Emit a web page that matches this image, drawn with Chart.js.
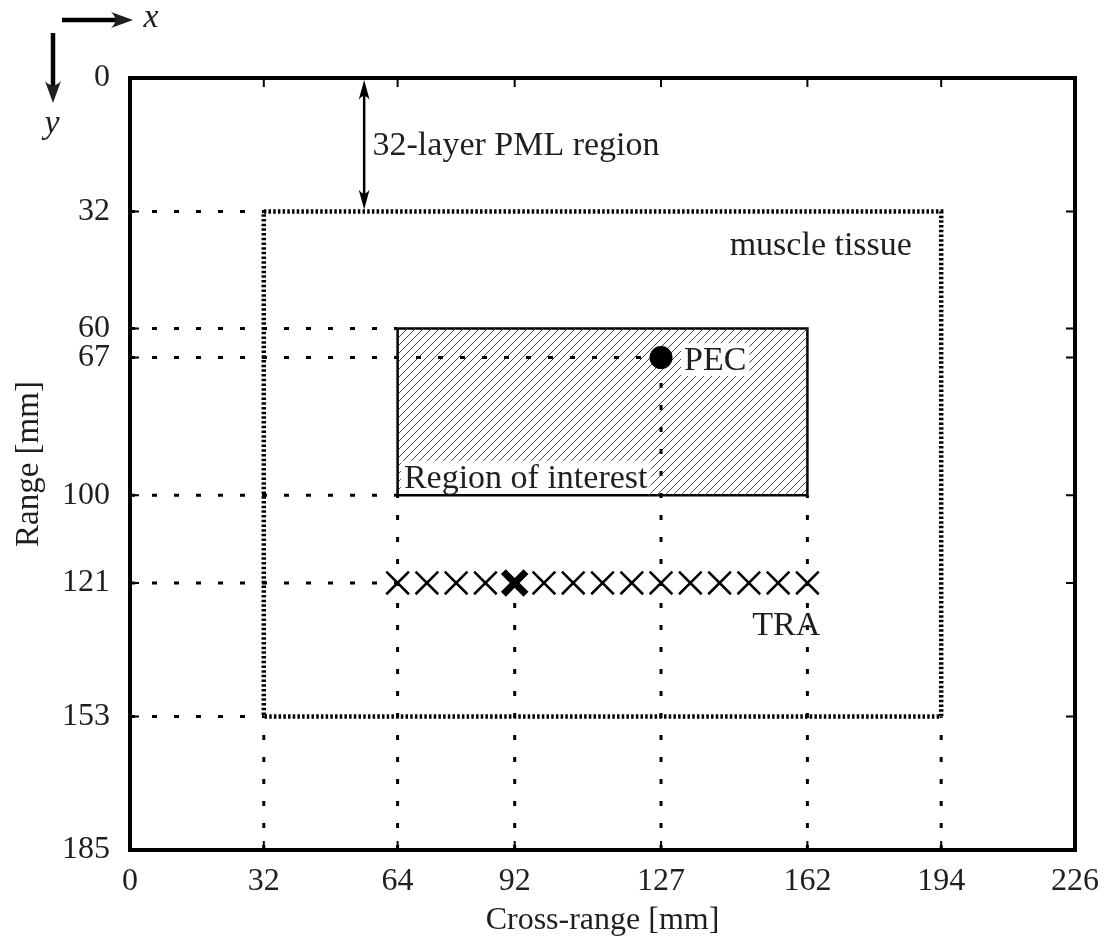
<!DOCTYPE html>
<html>
<head>
<meta charset="utf-8">
<script src="https://cdn.jsdelivr.net/npm/chart.js@4/dist/chart.umd.min.js"></script>
<style>
  html, body { margin: 0; padding: 0; background: #fff; }
  #wrap { width: 1107px; height: 942px; }
</style>
</head>
<body>
<div id="wrap"><canvas id="geo"></canvas></div>
<script>
// ── data (mm) ─────────────────────────────
const xTicks = [0, 32, 64, 92, 127, 162, 194, 226];
const yTicks = [0, 32, 60, 67, 100, 121, 153, 185];
const muscleX = [32, 194, 194, 32, 32];
const muscleY = [32, 32, 153, 153, 32];
const roiX = [64, 162, 162, 64, 64];
const roiY = [60, 60, 100, 100, 60];
const pec = [127, 67];
const traX = [64, 71, 78, 85, 92, 99, 106, 113, 120, 127, 134, 141, 148, 155, 162];
const traY = 121;
const traActive = 92;
// guide lines: horizontal [y, xEnd] from x=0, vertical [x, yEnd] from y=185
const hGuides = [[32, 32], [60, 64], [67, 127], [100, 64], [121, 64], [153, 32]];
const vGuides = [[32, 153], [64, 100], [92, 121], [127, 67], [162, 100], [194, 153]];
const pmlArrow = { x: 56, y0: 0, y1: 32 };
const labels = [
  { text: '32-layer PML region', x: 58, y: 16, align: 'left', bg: false },
  { text: 'muscle tissue', x: 187, y: 40, align: 'right', bg: false },
  { text: 'PEC', x: 132.5, y: 67.6, align: 'left', bg: true },
  { text: 'Region of interest', x: 65.5, y: 95.8, align: 'left', bg: true },
  { text: 'TRA', x: 148.8, y: 131, align: 'left', bg: false }
];

const FONT = "'Liberation Serif', 'Times New Roman', serif";
const INK = '#1f1f1f';

const zip = (xs, ys) => xs.map((x, i) => ({ x, y: ys[i] }));

const guidePts = [];
hGuides.forEach(([y, xe]) => { guidePts.push({ x: 0, y }, { x: xe, y }, { x: xe, y: null }); });
vGuides.forEach(([x, ye]) => { guidePts.push({ x, y: 185 }, { x, y: ye }, { x, y: null }); });

// hatch pattern ///
const hatch = (() => {
  const s = 8, c = document.createElement('canvas');
  c.width = s; c.height = s;
  const g = c.getContext('2d');
  g.strokeStyle = '#333'; g.lineWidth = 0.9;
  g.beginPath();
  g.moveTo(0, s); g.lineTo(s, 0);
  g.moveTo(-1, 1); g.lineTo(1, -1);
  g.moveTo(s - 1, s + 1); g.lineTo(s + 1, s - 1);
  g.stroke();
  return g.createPattern(c, 'repeat');
})();

// ── decorations: frame, inward ticks, arrows, labels ──
const arrowHead = (ctx, x, y, dx, dy, len, half) => {
  const px = -dy, py = dx;
  ctx.beginPath();
  ctx.moveTo(x, y);
  ctx.lineTo(x - dx * len + px * half, y - dy * len + py * half);
  ctx.quadraticCurveTo(x - dx * len * 0.6, y - dy * len * 0.6, x - dx * len - px * half, y - dy * len - py * half);
  ctx.closePath();
  ctx.fill();
};

const decor = {
  id: 'decor',
  afterDatasetsDraw(chart) {
    const { ctx, chartArea: a, scales: { x, y } } = chart;
    ctx.save();
    ctx.strokeStyle = '#000'; ctx.fillStyle = '#000';

    // PML double arrow
    const ax = x.getPixelForValue(pmlArrow.x);
    const ay0 = y.getPixelForValue(pmlArrow.y0) + 2, ay1 = y.getPixelForValue(pmlArrow.y1) - 2;
    ctx.lineWidth = 2.5;
    ctx.beginPath(); ctx.moveTo(ax, ay0 + 10); ctx.lineTo(ax, ay1 - 10); ctx.stroke();
    arrowHead(ctx, ax, ay0, 0, -1, 20, 5.5);
    arrowHead(ctx, ax, ay1, 0, 1, 20, 5.5);

    // labels
    ctx.font = `34px ${FONT}`;
    ctx.textBaseline = 'middle';
    labels.forEach(l => {
      const px = x.getPixelForValue(l.x), py = y.getPixelForValue(l.y);
      const w = ctx.measureText(l.text).width;
      const left = l.align === 'right' ? px - w : px;
      if (l.bg) {
        ctx.fillStyle = '#fff';
        ctx.fillRect(left - 3, py - 17, w + 6, 33);
      }
      ctx.fillStyle = INK;
      ctx.textAlign = 'left';
      ctx.fillText(l.text, left, py + 1);
    });

    // inward ticks on all four sides
    ctx.strokeStyle = '#000'; ctx.lineWidth = 2;
    ctx.beginPath();
    xTicks.forEach(v => {
      const px = x.getPixelForValue(v);
      ctx.moveTo(px, a.bottom); ctx.lineTo(px, a.bottom - 9);
      ctx.moveTo(px, a.top); ctx.lineTo(px, a.top + 9);
    });
    yTicks.forEach(v => {
      const py = y.getPixelForValue(v);
      ctx.moveTo(a.left, py); ctx.lineTo(a.left + 9, py);
      ctx.moveTo(a.right, py); ctx.lineTo(a.right - 9, py);
    });
    ctx.stroke();

    // frame
    ctx.lineWidth = 4;
    ctx.strokeRect(a.left, a.top, a.right - a.left, a.bottom - a.top);

    // coordinate system hint (top-left)
    ctx.lineWidth = 4.5;
    ctx.beginPath(); ctx.moveTo(62, 20); ctx.lineTo(116, 20); ctx.stroke();
    arrowHead(ctx, 133, 20, 1, 0, 22, 8);
    ctx.beginPath(); ctx.moveTo(53, 33); ctx.lineTo(53, 86); ctx.stroke();
    arrowHead(ctx, 53, 103, 0, 1, 22, 8);
    ctx.fillStyle = INK;
    ctx.font = `italic 34px ${FONT}`;
    ctx.textAlign = 'center';
    ctx.fillText('x', 151, 18);
    ctx.fillText('y', 52, 124);
    ctx.restore();
  }
};

const axisTicks = list => axis => { axis.ticks = list.map(v => ({ value: v })); };

new Chart(document.getElementById('geo'), {
  type: 'scatter',
  data: {
    datasets: [
      { label: 'ROI', data: zip(roiX, roiY), showLine: true, fill: 'shape',
        backgroundColor: hatch, borderColor: '#000', borderWidth: 2.5,
        pointRadius: 0, order: 5 },
      { label: 'guides', data: guidePts, showLine: true, spanGaps: false,
        borderColor: '#000', borderWidth: 3, borderDash: [5, 17],
        pointRadius: 0, order: 4 },
      { label: 'muscle', data: zip(muscleX, muscleY), showLine: true,
        borderColor: '#000', borderWidth: 4.5, borderDash: [2.5, 2.2],
        pointRadius: 0, order: 3 },
      { label: 'TRA', data: traX.filter(v => v !== traActive).map(v => ({ x: v, y: traY })),
        pointStyle: 'crossRot', pointRadius: 16, borderColor: '#000', borderWidth: 2.5, order: 2 },
      { label: 'TRA active', data: [{ x: traActive, y: traY }],
        pointStyle: 'crossRot', pointRadius: 16, borderColor: '#000', borderWidth: 7, order: 1 },
      { label: 'PEC', data: [{ x: pec[0], y: pec[1] }],
        pointRadius: 11.5, backgroundColor: '#000', borderColor: '#000', borderWidth: 0, order: 0 }
    ]
  },
  options: {
    responsive: true,
    maintainAspectRatio: false,
    animation: false,
    clip: false,
    layout: { padding: { left: 0, top: 78, right: 32, bottom: 0 } },
    plugins: { legend: { display: false }, tooltip: { enabled: false } },
    scales: {
      x: {
        type: 'linear', min: 0, max: 226,
        afterBuildTicks: axisTicks(xTicks),
        afterFit: s => { s.height = 92; s.paddingLeft = 0; s.paddingRight = 0; },
        grid: { display: false, drawTicks: false },
        border: { display: false },
        ticks: { color: INK, font: { family: FONT, size: 32 }, padding: 12, maxRotation: 0, autoSkip: false },
        title: { display: true, text: 'Cross-range [mm]', color: INK,
                 font: { family: FONT, size: 32 }, padding: { top: -6, bottom: 2 } }
      },
      y: {
        type: 'linear', min: 0, max: 185, reverse: true,
        afterBuildTicks: axisTicks(yTicks),
        afterFit: s => { s.width = 130; s.paddingTop = 0; s.paddingBottom = 0; },
        grid: { display: false, drawTicks: false },
        border: { display: false },
        ticks: { color: INK, font: { family: FONT, size: 32 }, padding: 20, autoSkip: false },
        title: { display: true, text: 'Range [mm]', color: INK,
                 font: { family: FONT, size: 33 }, padding: { top: 10, bottom: 0 } }
      }
    }
  },
  plugins: [decor]
});
</script>
</body>
</html>
